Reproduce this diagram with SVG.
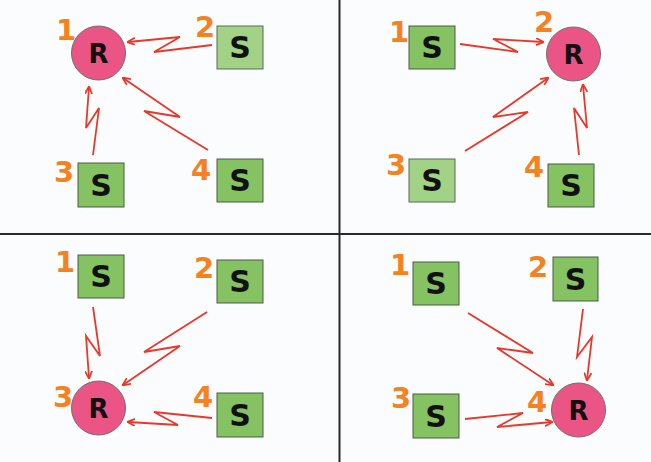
<svg xmlns="http://www.w3.org/2000/svg" width="651" height="462" viewBox="0 0 651 462">
<defs>
<style>
.bg{fill:#fbfcfe}
.sep{stroke:#2a2a2a;stroke-width:2;fill:none}
.s{fill:#84c262;stroke:#4d5a48;stroke-width:1}
.sl{fill:#a2d285;stroke:#5a6a55;stroke-width:1}
.r{fill:#ea5585;stroke:#6e6e6e;stroke-width:1}
.lt{font-family:"DejaVu Sans","Liberation Sans",sans-serif;font-weight:bold;font-size:30px;fill:#111;text-anchor:middle}
.rt{font-family:"DejaVu Sans","Liberation Sans",sans-serif;font-weight:bold;font-size:26px;fill:#111;text-anchor:middle}
.n{font-family:"DejaVu Sans","Liberation Sans",sans-serif;font-weight:bold;font-size:29px;fill:#f58220;text-anchor:middle}
.a{stroke:#e8382a;stroke-width:1.8;fill:none;stroke-linejoin:miter;marker-end:url(#ah)}
</style>
<marker id="ah" viewBox="0 0 10 10" refX="9" refY="5" markerWidth="8" markerHeight="8" markerUnits="userSpaceOnUse" orient="auto"><path d="M0,0.5 L10,5 L0,9.5" fill="none" stroke="#e8382a" stroke-width="2.2"/></marker>
</defs>
<rect class="bg" x="0" y="0" width="651" height="462"/>
<g id="separators">
<line class="sep" x1="339.5" y1="0" x2="339.5" y2="462"/>
<line class="sep" x1="0" y1="234" x2="651" y2="234"/>
</g>
<g id="connectors">
<polyline class="a" points="212,45 154,52 180,37 128,42"/>
<polyline class="a" points="93,155 99,108 86,128 89,87"/>
<polyline class="a" points="208,150 144,111 180,117 123,78"/>
<polyline class="a" points="460,44 518,52 493,39 543,42"/>
<polyline class="a" points="465,151 528,112 493,117 548,78"/>
<polyline class="a" points="579,155 574,108 587,128 583,85"/>
<polyline class="a" points="93,307 100,356 86,336 89,378"/>
<polyline class="a" points="207,312 144,352 180,346 123,385"/>
<polyline class="a" points="212,418 154,412 178,425 128,422"/>
<polyline class="a" points="468,313 533,353 497,348 553,385"/>
<polyline class="a" points="583,309 577,357 592,337 587,380"/>
<polyline class="a" points="465,419 523,413 497,427 552,422"/>
</g>
<g id="q1-r1"><circle class="r" cx="98.5" cy="53" r="27"/><text class="rt" x="98.5" y="63">R</text><text class="n" x="66" y="40">1</text></g>
<g id="q1-s2"><rect class="sl" x="217" y="26" width="46" height="43"/><text class="lt" x="240" y="58">S</text><text class="n" x="205" y="37">2</text></g>
<g id="q1-s3"><rect class="s" x="78" y="163" width="46" height="44"/><text class="lt" x="101" y="196">S</text><text class="n" x="64" y="182">3</text></g>
<g id="q1-s4"><rect class="s" x="217" y="159" width="46" height="43"/><text class="lt" x="240" y="191">S</text><text class="n" x="201" y="180">4</text></g>

<g id="q2-s1"><rect class="s" x="409" y="26" width="46" height="43"/><text class="lt" x="432" y="58">S</text><text class="n" x="399" y="42">1</text></g>
<g id="q2-r2"><circle class="r" cx="573.5" cy="54" r="27"/><text class="rt" x="573.5" y="64">R</text><text class="n" x="544" y="32">2</text></g>
<g id="q2-s3"><rect class="sl" x="409" y="159" width="46" height="43"/><text class="lt" x="432" y="191">S</text><text class="n" x="396" y="175">3</text></g>
<g id="q2-s4"><rect class="s" x="548" y="164" width="46" height="43"/><text class="lt" x="571" y="196">S</text><text class="n" x="534" y="177">4</text></g>

<g id="q3-s1"><rect class="s" x="78" y="255" width="46" height="43"/><text class="lt" x="101" y="287">S</text><text class="n" x="65" y="272">1</text></g>
<g id="q3-s2"><rect class="s" x="217" y="260" width="46" height="43"/><text class="lt" x="240" y="292">S</text><text class="n" x="204" y="278">2</text></g>
<g id="q3-r3"><circle class="r" cx="98.5" cy="408" r="27"/><text class="rt" x="98.5" y="418">R</text><text class="n" x="63" y="407">3</text></g>
<g id="q3-s4"><rect class="s" x="217" y="393" width="46" height="44"/><text class="lt" x="240" y="426">S</text><text class="n" x="203" y="407">4</text></g>

<g id="q4-s1"><rect class="s" x="413" y="262" width="46" height="43"/><text class="lt" x="436" y="294">S</text><text class="n" x="400" y="275">1</text></g>
<g id="q4-s2"><rect class="s" x="553" y="257" width="45" height="44"/><text class="lt" x="575.5" y="290">S</text><text class="n" x="538" y="277">2</text></g>
<g id="q4-s3"><rect class="s" x="413" y="394" width="46" height="44"/><text class="lt" x="436" y="427">S</text><text class="n" x="401" y="408">3</text></g>
<g id="q4-r4"><circle class="r" cx="578.5" cy="410" r="27"/><text class="rt" x="578.5" y="420">R</text><text class="n" x="537" y="412">4</text></g>
</svg>
